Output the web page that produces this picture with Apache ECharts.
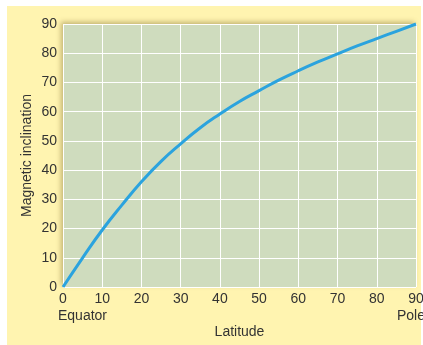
<!DOCTYPE html>
<html>
<head>
<meta charset="utf-8">
<script src="https://cdn.jsdelivr.net/npm/echarts@6/dist/echarts.min.js"></script>
<style>
html,body{margin:0;padding:0;background:#fff;}
#c{width:423px;height:345px;}
</style>
</head>
<body>
<div id="c"></div>
<script>
// Latitude (degrees) and magnetic inclination (degrees)
const latitude = [0, 5, 10, 15, 20, 25, 30, 35, 40, 45, 50, 55, 60, 65, 70, 75, 80, 85, 90];
const inclination = [0, 10, 19.5, 28, 36, 43, 49, 54.5, 59.2, 63.5, 67.2, 70.8, 74, 77, 79.8, 82.5, 85, 87.5, 90];
const xTicks = [0, 10, 20, 30, 40, 50, 60, 70, 80, 90];
const yTicks = [0, 10, 20, 30, 40, 50, 60, 70, 80, 90];

const chart = echarts.init(document.getElementById('c'), null, {renderer: 'canvas'});
const font = 'Liberation Sans, Arial, sans-serif';
chart.setOption({
  animation: false,
  backgroundColor: '#ffffff',
  graphic: [
    {type: 'rect', z: -10, shape: {x: 7, y: 6, width: 414, height: 345}, style: {fill: '#FFF4B0'}},
    {type: 'text', left: 58, top: 309, style: {text: 'Equator', font: '14px ' + font, fill: '#333'}},
    {type: 'text', left: 397, top: 309, style: {text: 'Pole', font: '14px ' + font, fill: '#333'}}
  ],
  grid: {
    left: 63, right: 7, top: 24, bottom: 58,
    containLabel: false,
    outerBoundsMode: 'none',
    show: true,
    backgroundColor: '#CFDCBE',
    borderWidth: 0,
    shadowColor: 'rgba(120,100,40,0.45)',
    shadowBlur: 5,
    shadowOffsetX: -2,
    shadowOffsetY: -2
  },
  xAxis: {
    type: 'value', min: 0, max: 90, interval: 10,
    name: 'Latitude', nameLocation: 'middle', nameGap: 38, nameMoveOverlap: false,
    nameTextStyle: {fontFamily: font, fontSize: 14, color: '#333'},
    axisLine: {show: false}, axisTick: {show: false},
    axisLabel: {fontFamily: font, fontSize: 14, color: '#333', margin: 5,
      formatter: v => xTicks.includes(v) ? String(v) : ''},
    splitLine: {show: true, lineStyle: {color: '#ffffff', width: 1}}
  },
  yAxis: {
    type: 'value', min: 0, max: 90, interval: 10,
    name: 'Magnetic inclination', nameLocation: 'middle', nameGap: 29, nameMoveOverlap: false,
    nameTextStyle: {fontFamily: font, fontSize: 14, color: '#333'},
    axisLine: {show: false}, axisTick: {show: false},
    axisLabel: {fontFamily: font, fontSize: 14, color: '#333', margin: 6,
      formatter: v => yTicks.includes(v) ? String(v) : ''},
    splitLine: {show: true, lineStyle: {color: '#ffffff', width: 1}}
  },
  series: [{
    type: 'line',
    data: latitude.map((x, i) => [x, inclination[i]]),
    smooth: true,
    symbol: 'none',
    lineStyle: {color: '#2BA3DE', width: 3},
    clip: false
  }]
});
</script>
</body>
</html>
